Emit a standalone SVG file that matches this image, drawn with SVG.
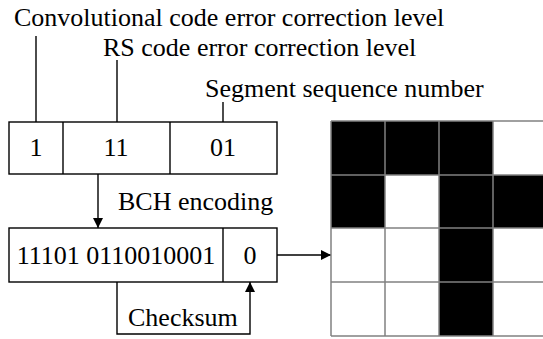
<svg xmlns="http://www.w3.org/2000/svg" width="543" height="339" viewBox="0 0 543 339">
<style>
text{font-family:'Liberation Serif','Times New Roman',Times,'DejaVu Serif',serif;font-size:26px;fill:#000}
.c{text-anchor:middle}
.ln{stroke:#000;stroke-width:1.4;fill:none}
.box{stroke:#000;stroke-width:1.4;fill:#fff}
.g{stroke:#808080;stroke-width:1.5}
.b{fill:#000}
.w{fill:#fff}
</style>
<defs>
<marker id="ah" viewBox="0 0 10 10" refX="10" refY="5" markerWidth="10" markerHeight="10" markerUnits="userSpaceOnUse" orient="auto">
<path d="M0,0 L10,5 L0,10 z" fill="#000"/>
</marker>
</defs>
<g id="labels" font-family="Liberation Serif, serif">
<text x="14" y="26">Convolutional code error correction level</text>
<text x="103" y="56">RS code error correction level</text>
<text x="205" y="97">Segment sequence number</text>
<text x="118" y="210">BCH encoding</text>
</g>
<g id="connectors">
<line class="ln" x1="36" y1="36" x2="36" y2="122"/>
<line class="ln" x1="117" y1="60" x2="117" y2="122"/>
<line class="ln" x1="223" y1="102" x2="223" y2="122"/>
<line class="ln" x1="98" y1="174" x2="98" y2="228" marker-end="url(#ah)"/>
<line class="ln" x1="277" y1="255" x2="331" y2="255" marker-end="url(#ah)"/>
<polyline class="ln" points="117,282 117,334 250,334 250,282" marker-end="url(#ah)"/>
</g>
<g id="node-top">
<rect class="box" x="9" y="122" width="268" height="52"/>
<line class="ln" x1="63" y1="122" x2="63" y2="174"/>
<line class="ln" x1="170" y1="122" x2="170" y2="174"/>
<text class="c" x="36" y="156">1</text>
<text class="c" x="116" y="156">11</text>
<text class="c" x="223" y="156">01</text>
</g>
<g id="node-encoded">
<rect class="box" x="9" y="228" width="268" height="54"/>
<line class="ln" x1="223" y1="228" x2="223" y2="282"/>
<text class="c" x="116" y="264">11101 0110010001</text>
<text class="c" x="250" y="264">0</text>
</g>
<g id="node-checksum">
<text x="128" y="326">Checksum</text>
</g>
<g id="node-grid">
<rect class="b" x="331" y="121" width="54" height="54"/>
<rect class="b" x="385" y="121" width="54" height="54"/>
<rect class="b" x="439" y="121" width="54" height="54"/>
<rect class="w" x="493" y="121" width="54" height="54"/>
<rect class="b" x="331" y="175" width="54" height="53"/>
<rect class="w" x="385" y="175" width="54" height="53"/>
<rect class="b" x="439" y="175" width="54" height="53"/>
<rect class="b" x="493" y="175" width="54" height="53"/>
<rect class="w" x="331" y="228" width="54" height="54"/>
<rect class="w" x="385" y="228" width="54" height="54"/>
<rect class="b" x="439" y="228" width="54" height="54"/>
<rect class="w" x="493" y="228" width="54" height="54"/>
<rect class="w" x="331" y="282" width="54" height="54"/>
<rect class="w" x="385" y="282" width="54" height="54"/>
<rect class="b" x="439" y="282" width="54" height="54"/>
<rect class="w" x="493" y="282" width="54" height="54"/>
<line class="g" x1="331" y1="121" x2="547" y2="121"/>
<line class="g" x1="331" y1="175" x2="547" y2="175"/>
<line class="g" x1="331" y1="228" x2="547" y2="228"/>
<line class="g" x1="331" y1="282" x2="547" y2="282"/>
<line class="g" x1="331" y1="336" x2="547" y2="336"/>
<line class="g" x1="331" y1="121" x2="331" y2="336"/>
<line class="g" x1="385" y1="121" x2="385" y2="336"/>
<line class="g" x1="439" y1="121" x2="439" y2="336"/>
<line class="g" x1="493" y1="121" x2="493" y2="336"/>
</g>
</svg>
